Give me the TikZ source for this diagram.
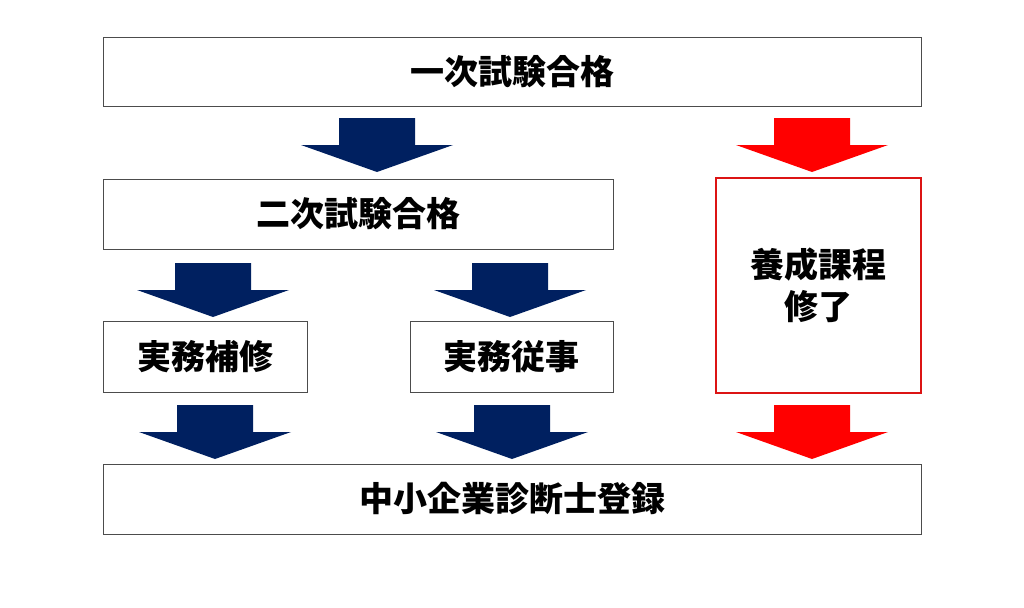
\documentclass[tikz,border=0pt]{standalone}
\usepackage{fontspec}
\newfontfamily\jpfont{Noto Sans CJK JP}[BoldFont={* Black}]
\usetikzlibrary{positioning}
\definecolor{navy}{RGB}{0,32,96}
\definecolor{redline}{RGB}{220,20,20}
\tikzstyle{stepbox} = [draw=black!70, line width=0.8pt, fill=white, inner sep=0pt, font=\jpfont\bfseries\fontsize{34}{42}\selectfont]
\tikzstyle{redbox} = [stepbox, draw=redline, line width=1.6pt, align=center]
% block arrow: centre x, top y, colour
\newcommand{\blockarrow}[3]{%
  \fill[#3] (#1-38,#2) -- (#1+38,#2) -- (#1+38,#2+27) -- (#1+76,#2+27)
    -- (#1,#2+54) -- (#1-76,#2+27) -- (#1-38,#2+27) -- cycle;}

\begin{document}
\begin{tikzpicture}[x=1pt, y=-1pt]
\useasboundingbox (0,0) rectangle (1024,607);
\node (first) [stepbox, minimum width=818pt, minimum height=69pt] at (512,71.5) {一次試験合格};
\node (second) [stepbox, minimum width=510pt, minimum height=70pt] at (358,214) {二次試験合格};
\node (course) [redbox, minimum width=205pt, minimum height=215pt] at (818.5,285.5) {養成課程\\修了};
\node (training) [stepbox, minimum width=204pt, minimum height=71pt] at (205,356.5) {実務補修};
\node (practice) [stepbox, minimum width=203pt, minimum height=71pt] at (511.5,356.5) {実務従事};
\node (register) [stepbox, minimum width=818pt, minimum height=70pt] at (512,499) {中小企業診断士登録};
\blockarrow{377}{118}{navy}
\blockarrow{812}{118}{red}
\blockarrow{213}{263}{navy}
\blockarrow{510}{263}{navy}
\blockarrow{215}{405}{navy}
\blockarrow{512}{405}{navy}
\blockarrow{812}{405}{red}
\end{tikzpicture}
\end{document}
